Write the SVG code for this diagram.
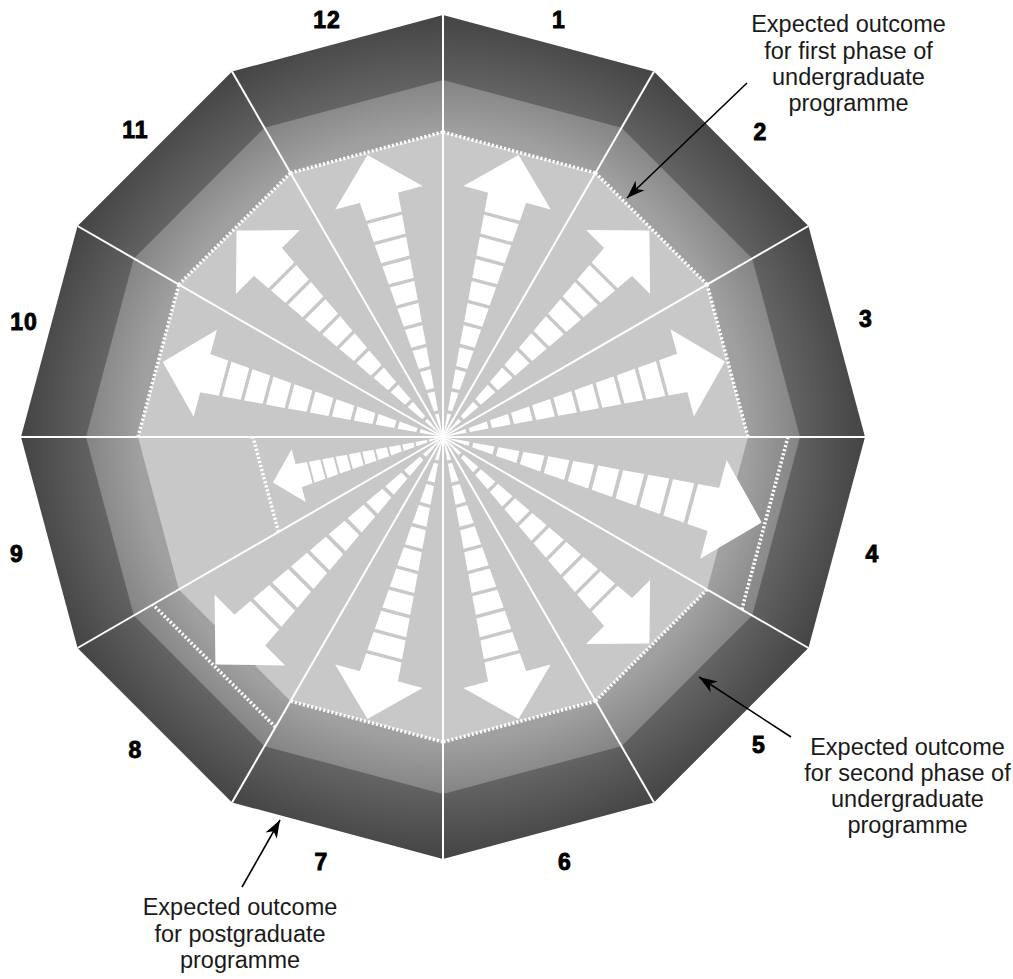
<svg xmlns="http://www.w3.org/2000/svg" xmlns:xlink="http://www.w3.org/1999/xlink" width="1013" height="979" viewBox="0 0 1013 979">
<style>
.num{font-family:"Liberation Sans",Arial,sans-serif;font-weight:bold;font-size:23px;fill:#000;stroke:#000;stroke-width:0.9;text-anchor:middle;letter-spacing:1px}
.note{font-family:"Liberation Sans",Arial,sans-serif;font-size:23.5px;fill:#1a1a1a;text-anchor:middle}
.spoke{stroke:#fff;stroke-width:2;fill:none}
.dot{fill:none;stroke:#fff;stroke-width:3.5;stroke-dasharray:2.2 2}
.lead{stroke:#000;stroke-width:1.6;fill:none;marker-end:url(#ah)}
.arw{fill:#fff}
</style>
<defs>
<radialGradient id="gDark" gradientUnits="userSpaceOnUse" cx="443" cy="437" r="422">
<stop offset="0.82" stop-color="#646464"/>
<stop offset="1" stop-color="#444444"/>
</radialGradient>
<radialGradient id="gMed" gradientUnits="userSpaceOnUse" cx="443" cy="437" r="422">
<stop offset="0.72" stop-color="#a0a0a0"/>
<stop offset="0.85" stop-color="#838383"/>
</radialGradient>
<path id="arrow" class="arw" d="M0,-300 L46.5,-254.5 L-46.5,-254.5 Z M-20.4,-256 L20.4,-256 L18.8,-235 L-18.8,-235 Z M-18.5,-231.5 L18.5,-231.5 L17,-212 L-17,-212 Z M-16.7,-208.5 L16.7,-208.5 L15.1,-189 L-15.1,-189 Z M-14.8,-185.5 L14.8,-185.5 L13.3,-166 L-13.3,-166 Z M-13,-162.5 L13,-162.5 L11.4,-143 L-11.4,-143 Z M-11.2,-139.5 L11.2,-139.5 L9.6,-120 L-9.6,-120 Z M-9.3,-116.5 L9.3,-116.5 L7.8,-97 L-7.8,-97 Z M-7.5,-93.5 L7.5,-93.5 L5.9,-74 L-5.9,-74 Z M-5.6,-70.5 L5.6,-70.5 L4.1,-51 L-4.1,-51 Z M-3.8,-47.5 L3.8,-47.5 L2.2,-28 L-2.2,-28 Z M-2,-24.5 L2,-24.5 L0.4,-5 L-0.4,-5 Z"/>
<marker id="ah" viewBox="-19 -8 20 16" refX="0" refY="0" markerWidth="20" markerHeight="16" markerUnits="userSpaceOnUse" orient="auto">
<path d="M0,0 L-18,-6.5 L-13,0 L-18,6.5 Z" fill="#000"/>
</marker>
</defs>

<g id="bands">
<polygon fill="url(#gDark)" points="443,15 654,71.55 808.45,226 865,437 808.45,648 654,802.45 443,859 232,802.45 77.55,648 21,437 77.55,226 232,71.55"/>
<polygon fill="url(#gMed)" points="443,80 621.5,127.8 752.2,258.5 800,437 752.2,615.5 621.5,746.2 443,794 264.5,746.2 133.8,615.5 86,437 133.8,258.5 264.5,127.8"/>
<polygon fill="#c8c8c8" points="443,132 595.5,172.9 707.1,284.5 748,437 707.1,589.5 595.5,701.1 443,742 290.5,701.1 178.9,589.5 138,437 178.9,284.5 290.5,172.9"/>
</g>

<g id="sector-1">
<use xlink:href="#arrow" href="#arrow" transform="translate(443 437) rotate(15) scale(0.973)"/>
<path class="dot" d="M443,132 L595.5,172.9"/>
<text class="num" x="559" y="28">1</text>
</g>
<g id="sector-2">
<use xlink:href="#arrow" href="#arrow" transform="translate(443 437) rotate(45) scale(0.973)"/>
<path class="dot" d="M595.5,172.9 L707.1,284.5"/>
<text class="num" x="760.5" y="140">2</text>
</g>
<g id="sector-3">
<use xlink:href="#arrow" href="#arrow" transform="translate(443 437) rotate(75) scale(0.973)"/>
<path class="dot" d="M707.1,284.5 L748,437"/>
<text class="num" x="866" y="327">3</text>
</g>
<g id="sector-4">
<use xlink:href="#arrow" href="#arrow" transform="translate(443 437) rotate(105) scale(1.1)"/>
<path class="dot" d="M788,437 L741.8,609.5"/>
<text class="num" x="872.5" y="562">4</text>
</g>
<g id="sector-5">
<use xlink:href="#arrow" href="#arrow" transform="translate(443 437) rotate(135) scale(0.973)"/>
<path class="dot" d="M707.1,589.5 L595.5,701.1"/>
<text class="num" x="759" y="753">5</text>
</g>
<g id="sector-6">
<use xlink:href="#arrow" href="#arrow" transform="translate(443 437) rotate(165) scale(0.973)"/>
<path class="dot" d="M595.5,701.1 L443,742"/>
<text class="num" x="565" y="870">6</text>
</g>
<g id="sector-7">
<use xlink:href="#arrow" href="#arrow" transform="translate(443 437) rotate(195) scale(0.973)"/>
<path class="dot" d="M443,742 L290.5,701.1"/>
<text class="num" x="321.5" y="870">7</text>
</g>
<g id="sector-8">
<use xlink:href="#arrow" href="#arrow" transform="translate(443 437) rotate(225) scale(1.073)"/>
<path class="dot" d="M275.5,727.1 L152.9,604.5"/>
<text class="num" x="135.5" y="758">8</text>
</g>
<g id="sector-9">
<use xlink:href="#arrow" href="#arrow" transform="translate(443 437) rotate(255) scale(0.587)"/>
<path class="dot" d="M278.5,532 L253,437"/>
<text class="num" x="17" y="562">9</text>
</g>
<g id="sector-10">
<use xlink:href="#arrow" href="#arrow" transform="translate(443 437) rotate(285) scale(0.967)"/>
<path class="dot" d="M138,437 L178.9,284.5"/>
<text class="num" x="24" y="330">10</text>
</g>
<g id="sector-11">
<use xlink:href="#arrow" href="#arrow" transform="translate(443 437) rotate(315) scale(0.973)"/>
<path class="dot" d="M178.9,284.5 L290.5,172.9"/>
<text class="num" x="135.5" y="138">11</text>
</g>
<g id="sector-12">
<use xlink:href="#arrow" href="#arrow" transform="translate(443 437) rotate(345) scale(0.973)"/>
<path class="dot" d="M290.5,172.9 L443,132"/>
<text class="num" x="327" y="28">12</text>
</g>

<g id="spokes">
<line class="spoke" x1="443" y1="437" x2="443" y2="15"/>
<line class="spoke" x1="443" y1="437" x2="654" y2="71.55"/>
<line class="spoke" x1="443" y1="437" x2="808.45" y2="226"/>
<line class="spoke" x1="443" y1="437" x2="865" y2="437"/>
<line class="spoke" x1="443" y1="437" x2="808.45" y2="648"/>
<line class="spoke" x1="443" y1="437" x2="654" y2="802.45"/>
<line class="spoke" x1="443" y1="437" x2="443" y2="859"/>
<line class="spoke" x1="443" y1="437" x2="232" y2="802.45"/>
<line class="spoke" x1="443" y1="437" x2="77.55" y2="648"/>
<line class="spoke" x1="443" y1="437" x2="21" y2="437"/>
<line class="spoke" x1="443" y1="437" x2="77.55" y2="226"/>
<line class="spoke" x1="443" y1="437" x2="232" y2="71.55"/>
</g>

<g id="note-first-phase">
<text class="note" x="848.5"><tspan x="848.5" y="32">Expected outcome</tspan><tspan x="848.5" y="58.5">for first phase of</tspan><tspan x="848.5" y="85">undergraduate</tspan><tspan x="848.5" y="110.5">programme</tspan></text>
</g>
<g id="note-second-phase">
<text class="note" x="907.5"><tspan x="907.5" y="755">Expected outcome</tspan><tspan x="907.5" y="781">for second phase of</tspan><tspan x="907.5" y="807">undergraduate</tspan><tspan x="907.5" y="833">programme</tspan></text>
</g>
<g id="note-postgraduate">
<text class="note" x="240"><tspan x="240" y="915">Expected outcome</tspan><tspan x="240" y="941.5">for postgraduate</tspan><tspan x="240" y="968">programme</tspan></text>
</g>

<g id="connectors">
<line class="lead" x1="747" y1="83" x2="627" y2="198"/>
<line class="lead" x1="791" y1="737" x2="699" y2="677"/>
<line class="lead" x1="242" y1="887" x2="280" y2="820"/>
</g>
</svg>
